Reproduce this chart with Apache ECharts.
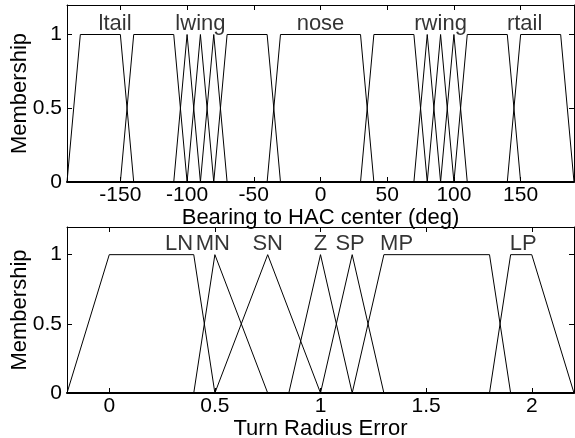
<!DOCTYPE html>
<html>
<head>
<meta charset="utf-8">
<script src="https://cdn.jsdelivr.net/npm/echarts@6/dist/echarts.min.js"></script>
<style>
html,body{margin:0;padding:0;background:#fff;}
#main{width:575px;height:438px;}
</style>
</head>
<body>
<div id="main"></div>
<script>
// membership functions, breakpoints (trapezoid 4 pts, triangle 3 pts)
var bearingMFs = [
	[-190, -180, -150, -140],
	[-150, -140, -110, -100],
	[-110, -100, -90],
	[-100, -90, -80],
	[-90, -80, -70],
	[-80, -70, -40, -30],
	[-40, -30, 30, 40],
	[30, 40, 70, 80],
	[70, 80, 90],
	[80, 90, 100],
	[90, 100, 110],
	[100, 110, 140, 150],
	[140, 150, 180, 190]
];
var bearingLabels = ['ltail', 'lwing', 'nose', 'rwing', 'rtail'];
var bearingLabelX = [-154, -90, 0, 90, 153];
var bearingTicks = [-150, -100, -50, 0, 50, 100, 150];

var radiusMFs = [
	[-0.2, 0, 0.4, 0.5],
	[0.4, 0.5, 0.75],
	[0.5, 0.75, 1.0],
	[0.85, 1.0, 1.15],
	[1.0, 1.15, 1.3],
	[1.15, 1.3, 1.8, 1.9],
	[1.8, 1.9, 2.0, 2.2]
];
var radiusLabels = ['LN', 'MN', 'SN', 'Z', 'SP', 'MP', 'LP'];
var radiusLabelX = [0.33, 0.49, 0.75, 1.0, 1.14, 1.36, 1.96];
var radiusTicks = [0, 0.5, 1, 1.5, 2];

var yTicks = [0, 0.5, 1];

var FONT = "'Liberation Sans', Arial, Helvetica, sans-serif";

function mfPoints(p){
	// 0 at both ends, 1 at the inner breakpoints
	var pts = [];
	for (var i = 0; i < p.length; i++) {
		var y = (i == 0 || i == p.length - 1) ? 0 : 1;
		pts.push([p[i], y]);
	}
	return pts;
}

function xAxes(idx, min, max, ticks, name, gap){
	return [
		{
			gridIndex: idx, type: 'value', min: min, max: max, position: 'bottom',
			axisLine: {onZero: false, lineStyle: {color: '#000', width: 2}},
			axisTick: {inside: true, length: 5, customValues: ticks, lineStyle: {color: '#000'}},
			axisLabel: {customValues: ticks, color: '#000', fontSize: 21, fontFamily: FONT, margin: 3},
			splitLine: {show: false},
			name: name, nameLocation: 'middle', nameGap: gap,
			nameTextStyle: {color: '#000', fontSize: 22, fontFamily: FONT}
		},
		{
			gridIndex: idx, type: 'value', min: min, max: max, position: 'top',
			axisLine: {onZero: false, lineStyle: {color: '#000', width: 1}},
			axisTick: {inside: true, length: 5, customValues: ticks, lineStyle: {color: '#000'}},
			axisLabel: {show: false},
			splitLine: {show: false}
		}
	];
}

function yAxes(idx){
	return [
		{
			gridIndex: idx, type: 'value', min: 0, max: 1.2, position: 'left',
			axisLine: {show: true, onZero: false, lineStyle: {color: '#000', width: 1}},
			axisTick: {show: true, inside: true, length: 5, customValues: yTicks, lineStyle: {color: '#000'}},
			axisLabel: {customValues: yTicks, color: '#000', fontSize: 21, fontFamily: FONT, margin: 5},
			splitLine: {show: false},
			name: 'Membership', nameLocation: 'middle', nameGap: 36, nameMoveOverlap: false,
			nameTextStyle: {color: '#000', fontSize: 22, fontFamily: FONT}
		},
		{
			gridIndex: idx, type: 'value', min: 0, max: 1.2, position: 'right',
			axisLine: {show: true, onZero: false, lineStyle: {color: '#000', width: 1}},
			axisTick: {show: true, inside: true, length: 5, customValues: yTicks, lineStyle: {color: '#000'}},
			axisLabel: {show: false},
			splitLine: {show: false}
		}
	];
}

var series = [];
function addPlot(mfs, labels, labelX, xi, yi){
	for (var i = 0; i < mfs.length; i++) {
		series.push({
			type: 'line', xAxisIndex: xi, yAxisIndex: yi,
			data: mfPoints(mfs[i]), showSymbol: false, silent: true,
			lineStyle: {color: '#000', width: 1}
		});
	}
	var lab = [];
	for (var j = 0; j < labels.length; j++) {
		lab.push({name: labels[j], value: [labelX[j], 1]});
	}
	series.push({
		type: 'scatter', xAxisIndex: xi, yAxisIndex: yi, symbolSize: 0, silent: true,
		data: lab,
		label: {show: true, position: 'top', distance: 0, formatter: '{b}',
			color: '#000', fontSize: 22, fontFamily: FONT}
	});
}
addPlot(bearingMFs, bearingLabels, bearingLabelX, 0, 0);
addPlot(radiusMFs, radiusLabels, radiusLabelX, 2, 2);

var myChart = echarts.init(document.getElementById('main'));
var option = {
	animation: false,
	backgroundColor: '#fff',
	grid: [
		{left: 67, top: 5, width: 507, height: 177, containLabel: false, outerBoundsMode: 'none'},
		{left: 67, top: 227, width: 507, height: 166, containLabel: false, outerBoundsMode: 'none'}
	],
	xAxis: xAxes(0, -190, 190, bearingTicks, 'Bearing to HAC center (deg)', 18)
		.concat(xAxes(1, -0.2, 2.2, radiusTicks, 'Turn Radius Error', 20)),
	yAxis: yAxes(0).concat(yAxes(1)),
	series: series
};
myChart.setOption(option);
</script>
</body>
</html>
